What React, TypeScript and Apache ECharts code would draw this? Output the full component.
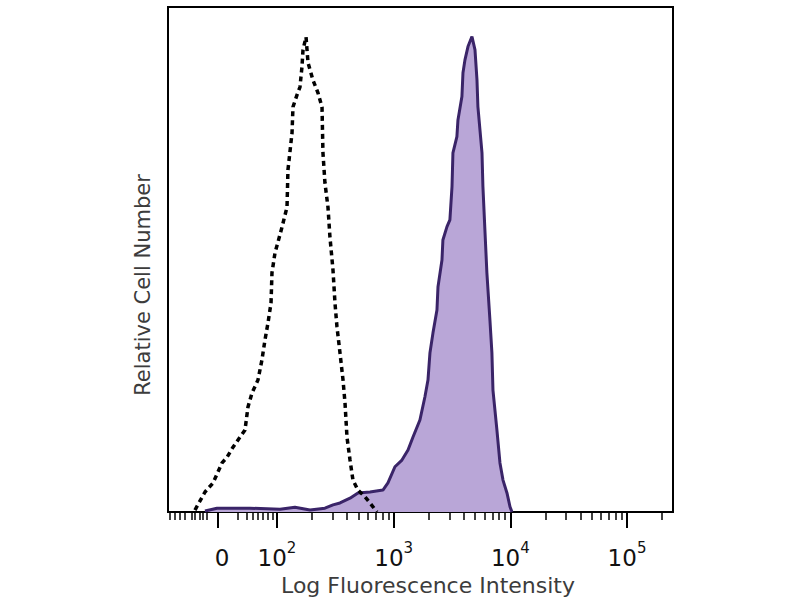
import React, { useEffect, useRef } from "react";
import * as echarts from "echarts";

// x positions are in display decades of the biexponential axis (2 = 10^2, 3 = 10^3 ...)
const controlX = [1.297,1.383,1.452,1.529,1.572,1.623,1.683,1.726,1.751,1.786,1.837,1.871,1.897,1.923,1.949,1.957,1.983,2.009,2.043,2.086,2.094,2.129,2.137,2.171,2.197,2.214,2.223,2.249,2.266,2.308,2.351,2.386,2.394,2.411,2.437,2.454,2.480,2.497,2.514,2.540,2.566,2.583,2.600,2.626,2.651,2.694,2.754,2.797,2.857];
const controlY = [0.4,4.2,6.1,10.3,11.5,13.6,15.7,17.2,22.0,25.0,27.7,31.9,36.1,39.7,43.9,50.2,54.4,56.7,59.8,64.0,71.8,79.6,85.0,87.5,89.2,93.4,97.0,99.7,94.3,90.7,88.0,85.0,75.4,69.1,64.0,57.7,50.8,43.9,38.9,33.4,27.7,22.9,15.7,10.9,6.7,4.6,3.2,1.9,0];

const stainedX = [1.383,1.486,1.769,2.026,2.154,2.283,2.411,2.480,2.540,2.626,2.694,2.797,2.908,2.951,3.011,3.071,3.123,3.165,3.225,3.268,3.294,3.311,3.337,3.371,3.380,3.414,3.422,3.457,3.482,3.500,3.508,3.542,3.551,3.585,3.594,3.611,3.637,3.671,3.697,3.714,3.722,3.757,3.765,3.782,3.799,3.825,3.842,3.851,3.885,3.911,3.937,3.971,3.997,4.014];
const stainedY = [0.2,0.8,0.8,0.6,1.0,0.4,0.8,1.5,1.9,2.9,4.0,4.2,4.6,6.1,9.5,10.9,13.0,15.7,19.3,24.2,27.7,33.4,37.6,42.4,47.3,52.9,57.1,59.9,61.3,68.3,75.4,78.8,82.3,87.2,92.2,94.9,97.7,99.8,97.0,90.7,85.1,75.4,68.3,59.2,50.2,40.3,33.4,25.6,17.2,10.3,6.7,4.0,1.1,0];

const majorTickValues = [1.494, 2, 3, 4, 5];
const majorTickBase = ["0", "10", "10", "10", "10"];
const majorTickExp = ["", "2", "3", "4", "5"];
const lowMinorTicks = [1.083,1.126,1.169,1.212,1.272,1.297,1.340,1.366,1.400,1.666,1.743,1.794,1.837,1.880,1.923,1.966];

const xMin = 1.066;
const xMax = 5.394;
const yMax = 106;

const xTitle = "Log Fluorescence Intensity";
const yTitle = "Relative Cell Number";

export default function App() {
  const ref = useRef<HTMLDivElement>(null);
  useEffect(() => {
    document.body.style.margin = "0";
    if (!ref.current) return;
    const chart = echarts.init(ref.current, null, { renderer: "svg" });
    const minorTicks: number[] = [...lowMinorTicks];
    for (let n = 2; n <= 4; n++) {
      for (let k = 2; k <= 9; k++) minorTicks.push(n + Math.log10(k));
    }
    minorTicks.push(5 + Math.log10(2));

    const fmt = (v: number) => {
      const i = majorTickValues.findIndex((m) => Math.abs(m - v) < 1e-6);
      if (i < 0) return "";
      if (!majorTickExp[i]) return `{z|${majorTickBase[i]}}`;
      return `{b|${majorTickBase[i]}}{s|${majorTickExp[i]}}`;
    };

    const font = "DejaVu Sans";
    chart.setOption({
      animation: false,
      grid: { left: 168, top: 7, width: 505, height: 505, show: true, borderColor: "#000", borderWidth: 2, outerBoundsMode: "none" },
      xAxis: [
        {
          type: "value", min: xMin, max: xMax, position: "bottom",
          axisLine: { show: true, onZero: false, lineStyle: { color: "#000", width: 2 } },
          axisTick: { show: true, customValues: majorTickValues, length: 16, lineStyle: { color: "#000", width: 2 } },
          axisLabel: {
            show: true, customValues: majorTickValues, formatter: fmt, margin: 28,
            rich: {
              b: { fontSize: 23, fontFamily: font, color: "#111", padding: [6, 0, 0, 0] },
              z: { fontSize: 23, fontFamily: font, color: "#111", padding: [6, 0, 0, 8] },
              s: { fontSize: 15, fontFamily: font, color: "#111", verticalAlign: "top" },
            },
          },
          splitLine: { show: false },
        },
        {
          type: "value", min: xMin, max: xMax, position: "bottom",
          axisLine: { show: false },
          axisTick: { show: true, customValues: minorTicks, length: 8, lineStyle: { color: "#000", width: 1.5 } },
          axisLabel: { show: false },
          splitLine: { show: false },
        },
      ],
      yAxis: {
        type: "value", min: 0, max: yMax,
        axisLine: { show: true, lineStyle: { color: "#000", width: 2 } },
        axisTick: { show: false }, axisLabel: { show: false }, splitLine: { show: false },
      },
      graphic: [
        { type: "text", x: 428, y: 585, style: { text: xTitle, fontSize: 22, fontFamily: font, fill: "#3c3c3c", textAlign: "center", textVerticalAlign: "middle" } },
        { type: "text", x: 143, y: 285, rotation: Math.PI / 2, style: { text: yTitle, fontSize: 21, fontFamily: font, fill: "#3c3c3c", textAlign: "center", textVerticalAlign: "middle" } },
      ],
      series: [
        {
          type: "line", xAxisIndex: 0, data: stainedX.map((x, i) => [x, stainedY[i]]),
          symbol: "none", lineStyle: { color: "#3a2468", width: 3 },
          areaStyle: { color: "#b9a6d7", opacity: 1 }, z: 2,
        },
        {
          type: "line", xAxisIndex: 0, data: controlX.map((x, i) => [x, controlY[i]]),
          symbol: "none", lineStyle: { color: "#000", width: 3.5, type: [5, 4] }, z: 3,
        },
      ],
    });
    return () => chart.dispose();
  }, []);
  return <div ref={ref} style={{ position: "fixed", left: 0, top: 0, width: 800, height: 600, background: "#fff" }} />;
}
